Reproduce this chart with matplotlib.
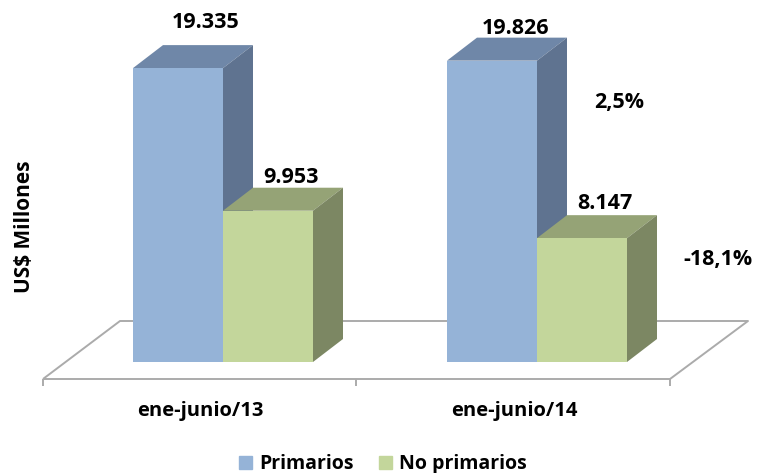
import matplotlib
matplotlib.use('Agg')
from matplotlib import pyplot as plt
from matplotlib.patches import Polygon

periods = ['ene-junio/13', 'ene-junio/14']
primarios = [19335, 19826]
no_primarios = [9953, 8147]
primarios_labels = ['19.335', '19.826']
no_primarios_labels = ['9.953', '8.147']
variation = ['2,5%', '-18,1%']

plt.rcParams['font.family'] = ['Open Sans', 'DejaVu Sans']
plt.rcParams['font.weight'] = 'bold'

# one y unit = US$ 1 million, x is in pixels
K = 0.0152
BASE = 362


def yv(py):
    return (BASE - py) / K


DX, DY = 30, 23 / K
WIDTH = 90
starts = [133, 447]

fig = plt.figure(figsize=(7.57, 4.73), dpi=100)
ax = fig.add_axes([0, 0, 1, 1])
ax.set_xlim(0, 757)
ax.set_ylim(yv(473), yv(0))
ax.axis('off')

# floor
line = dict(color='#ababab', lw=1.4, zorder=1, solid_capstyle='butt')
ax.plot([43, 120, 748, 670, 43], [yv(379), yv(321), yv(321), yv(379), yv(379)], **line)
for x in [43, 356, 670]:
    ax.plot([x, x], [yv(379), yv(386)], **line)


def bar3d(x, v, w, front, top, side, z):
    ax.bar(x, v, w, align='edge', color=front, zorder=z + 0.2)
    ax.add_patch(Polygon([(x, v), (x + DX, v + DY), (x + w + DX, v + DY), (x + w, v)],
                         color=top, lw=0, zorder=z))
    ax.add_patch(Polygon([(x + w, 0), (x + w + DX, DY), (x + w + DX, v + DY), (x + w, v)],
                         color=side, lw=0, zorder=z))


for i in range(2):
    x = starts[i]
    bar3d(x, primarios[i], WIDTH, '#95b3d7', '#6f87a8', '#5f7390', 2)
    bar3d(x + WIDTH, no_primarios[i], WIDTH, '#c3d69b', '#95a376', '#7c8763', 3)

txt = dict(ha='center', va='center', fontsize=15.5, color='black', zorder=5)
ax.text(206, yv(23), primarios_labels[0], **txt)
ax.text(291, yv(177), no_primarios_labels[0], **txt)
ax.text(516, yv(28), primarios_labels[1], **txt)
ax.text(605, yv(203), no_primarios_labels[1], **txt)
ax.text(619, yv(102), variation[0], **txt)
ax.text(718, yv(259), variation[1], **txt)
small = dict(txt, fontsize=14.5)
ax.text(200, yv(411), periods[0], **small)
ax.text(514, yv(411), periods[1], **small)
ax.text(25, yv(227), 'US$ Millones', rotation=90, **dict(txt, fontsize=15))

handles = [plt.Rectangle((0, 0), 1, 1, color='#95b3d7'), plt.Rectangle((0, 0), 1, 1, color='#c3d69b')]
fig.legend(handles, ['Primarios', 'No primarios'], ncol=2, frameon=False, fontsize=14,
           loc='center', bbox_to_anchor=(383 / 757, 1 - 464 / 473), handlelength=0.68,
           handleheight=0.68, handletextpad=0.36, columnspacing=1.3, borderpad=0, borderaxespad=0)

fig.savefig('out.png', dpi=100)
